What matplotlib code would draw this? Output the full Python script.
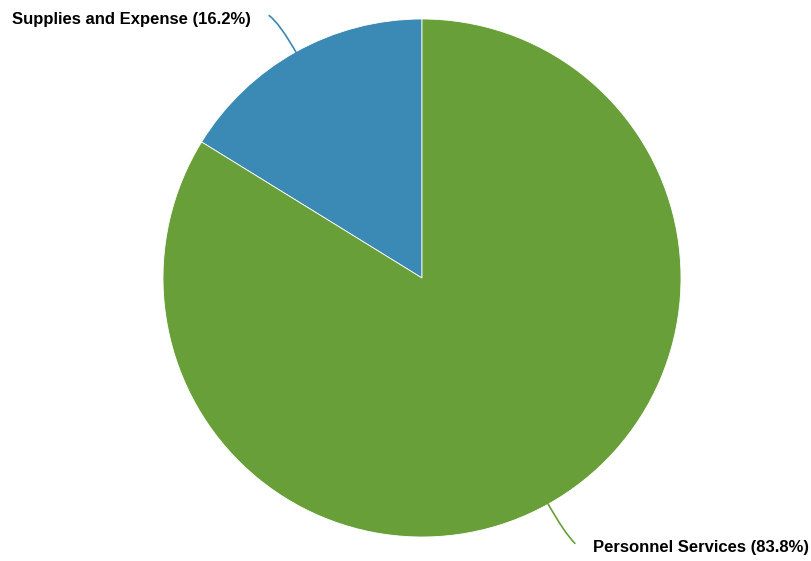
import numpy as np
import matplotlib

matplotlib.use("Agg")
import matplotlib.pyplot as plt
from matplotlib.path import Path
from matplotlib.patches import PathPatch

labels = ["Supplies and Expense", "Personnel Services"]
shares = [16.2, 83.8]
colors = ["#3B89B5", "#689F38"]

W, H = 812, 561
CX, CY, R = 422, H - 278, 259

plt.rcParams["font.family"] = ["Liberation Sans", "DejaVu Sans"]

fig = plt.figure(figsize=(W / 100, H / 100), dpi=100)
ax = fig.add_axes([0, 0, 1, 1])
wedges, _ = ax.pie(shares, colors=colors, startangle=90, counterclock=True,
                   center=(CX, CY), radius=R, frame=False,
                   wedgeprops=dict(edgecolor="white", linewidth=0.6))
ax.set_xlim(0, W)
ax.set_ylim(0, H)
ax.set_aspect("equal")
ax.axis("off")

for w, lab, val, col in zip(wedges, labels, shares, colors):
    th = np.deg2rad((w.theta1 + w.theta2) / 2)
    d = np.array([np.cos(th), np.sin(th)])
    c = np.array([CX, CY])
    side = -1 if d[0] < 0 else 1
    up = d[1] > 0
    p0 = c + R * 0.985 * d
    rise = 40 if up else 43
    p1 = p0 + d * 37
    p2 = np.array([p0[0] + side * 29, p0[1] + rise * np.sign(d[1])])
    path = Path([p0, p1, p2], [Path.MOVETO, Path.CURVE3, Path.CURVE3])
    ax.add_patch(PathPatch(path, fc="none", ec=col, lw=1.2))
    ha = "right" if side < 0 else "left"
    ax.text(p2[0] + side * 18, p2[1] - 4, f"{lab} ({val}%)", ha=ha, va="center",
            fontsize=12, fontweight="bold", color="black")

fig.savefig("out.png", dpi=100)
